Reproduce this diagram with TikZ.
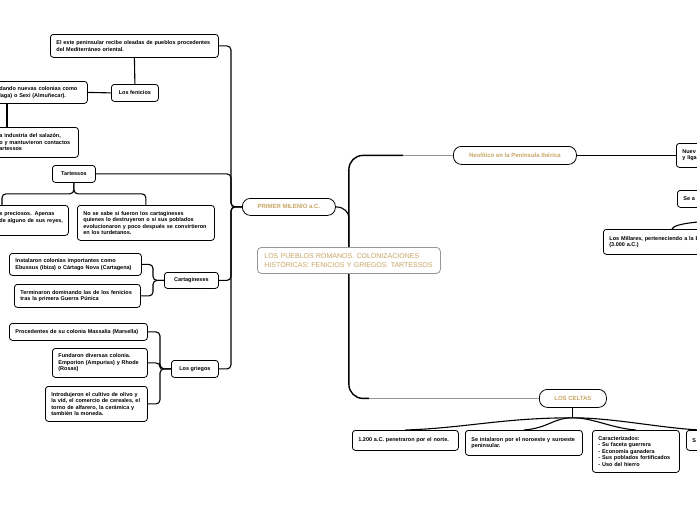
\documentclass[tikz,border=0pt]{standalone}
\usepackage{fontspec}
\setmainfont{Liberation Sans}
\usetikzlibrary{calc,backgrounds}
\definecolor{gold}{RGB}{200,165,100}
\definecolor{rootgray}{RGB}{150,150,150}

\begin{document}
\begin{tikzpicture}[x=1pt, y=-1pt,
  box/.style={draw, line width=0.8pt, rounded corners=3pt, fill=white, anchor=north west,
    align=left, inner xsep=6pt, inner ysep=2pt, font=\fontsize{5.5}{6.5}\selectfont\bfseries},
  tag/.style={box, align=center, inner xsep=2pt},
  pill/.style={draw, line width=0.8pt, rounded corners=8pt, fill=white, anchor=north west,
    align=center, text=gold, inner sep=2pt, font=\fontsize{6}{7}\selectfont\bfseries},
  branch/.style={line width=1.1pt, rounded corners=4pt},
  trunk/.style={line width=1.4pt, rounded corners=14pt},
  twig/.style={line width=0.5pt, draw=rootgray}]
\useasboundingbox (0,0) rectangle (697,520);
\clip (0,0) rectangle (697,520);

% centre
\node[draw=rootgray, line width=0.8pt, rounded corners=4pt, fill=white, anchor=north west,
  align=left, text=gold, text width=169pt, minimum height=26pt, inner xsep=7pt,
  font=\fontsize{7}{8.5}\selectfont] (root) at (257,247)
  {LOS PUEBLOS ROMANOS. COLONIZACIONES\\HISTÓRICAS: FENICIOS Y GRIEGOS. TARTESSOS};

% primer milenio
\node[pill, minimum width=93pt, minimum height=17pt] (milenio) at (242,198) {PRIMER MILENIO a.C.};
\node[box, text width=156pt, minimum height=23pt] (oleadas) at (50,34)
  {El este peninsular recibe oleadas de pueblos procedentes\\del Mediterráneo oriental.};
\node[tag, minimum width=47pt, minimum height=17pt] (fenicios) at (111,84) {Los fenicios};
\node[box, text width=82pt, minimum height=22pt] (colonias) at (-7,81)
  {\mbox{dando nuevas colonias como}\\\mbox{laga) o Sexi (Almuñecar).}};
\node[box, text width=73pt, minimum height=30pt] (salazon) at (-7,127)
  {\mbox{a industria del salazón,}\\\mbox{o y mantuvieron contactos}\\artessos};
\node[tag, minimum width=43pt, minimum height=17pt] (tartessos) at (52,165) {Tartessos};
\node[box, text width=63pt, minimum height=30pt] (preciosos) at (-7,205)
  {\mbox{s preciosos. Apenas}\\\mbox{de alguno de sus reyes,}\\\mbox{}};
\node[box, text width=125pt, minimum height=35pt] (turdetanos) at (77,205)
  {No se sabe si fueron los cartagineses\\quienes lo destruyeron o si sus poblados\\\mbox{evolucionaron y poco después se convirtieron}\\en los turdetanos.};
\node[tag, minimum width=54pt, minimum height=16pt] (cartag) at (164,272) {Cartagineses};
\node[box, text width=120pt, minimum height=22pt] (ebussus) at (9,253)
  {Instalaron colonias importantes como\\\mbox{Ebussus (Ibiza) o Cártago Nova (Cartagena)}};
\node[box, text width=114pt, minimum height=23pt] (punica) at (14,284)
  {\mbox{Terminaron dominando las de los fenicios}\\tras la primera Guerra Púnica};
\node[tag, minimum width=47pt, minimum height=17pt] (griegos) at (171,360) {Los griegos};
\node[box, text width=126pt, minimum height=17pt] (massalia) at (9,323)
  {\mbox{Procedentes de su colonia Massalia (Marsella)}};
\node[box, text width=83pt, minimum height=29pt] (emporion) at (52,348)
  {Fundaron diversas colonia.\\\mbox{Emporion (Ampurias) y Rhode}\\(Rosas)};
\node[box, text width=90pt, minimum height=35pt] (olivo) at (45,386)
  {\mbox{Introdujeron el cultivo de olivo y}\\\mbox{la vid, el comercio de cereales, el}\\\mbox{torno de alfarero, la cerámica y}\\también la moneda.};

% neolitico
\node[pill, minimum width=123pt, minimum height=18pt] (neolitico) at (453,146) {Neolítico en la Península Ibérica};
\node[box, text width=60pt, minimum height=24pt] (nuevas) at (676,143) {Nuev\\y liga};
\node[box, text width=40pt, minimum height=17pt] (sea) at (677,190) {Se a};
\node[box, text width=120pt, minimum height=25pt] (millares) at (603,229)
  {Los Millares, perteneciendo a la E\\(3.000 a.C.)};
\coordinate (offmill) at (720,221);

% celtas
\node[pill, minimum width=67pt, minimum height=18pt] (celtas) at (539,389) {LOS CELTAS};
\node[box, text width=94pt, minimum height=20pt] (norte) at (352,430) {\mbox{1.200 a.C. penetraron por el norte.}};
\node[box, text width=105pt, minimum height=25pt] (noroeste) at (465,430)
  {\mbox{Se intalaron por el noroeste y suroeste}\\peninsular.};
\node[box, text width=75pt, minimum height=42pt] (caract) at (592,430)
  {Caracterizados:\\- Su faceta guerrera\\- Economía ganadera\\\mbox{- Sus poblados fortificados}\\- Uso del hierro};
\node[box, text width=40pt, minimum height=20pt] (celtass) at (686,430) {S};
\coordinate (forkceltas) at ($(celtas.south)+(0,10)$);

\begin{scope}[on background layer]
\draw[branch] (milenio.west) -- ++(-11,0) |- (oleadas.east);
\draw[branch] (milenio.west) -- ++(-11,0) |- (tartessos.east);
\draw[branch] (milenio.west) -- ++(-11,0) |- (cartag.east);
\draw[branch] (milenio.west) -- ++(-11,0) |- (griegos.east);
\draw[branch] (oleadas.south) -- (fenicios.north);
\draw[branch] (fenicios.west) -- (colonias.east);
\draw[branch] ([xshift=14pt]colonias.south west) -- ([xshift=14pt]salazon.north west);
\draw[branch] (tartessos.south) -- ++(0,11) -| ([xshift=9pt]preciosos.north west);
\draw[branch] (tartessos.south) -- ++(0,11) -| (turdetanos.north);
\draw[branch] (cartag.west) -- ++(-11,0) |- (ebussus.east);
\draw[branch] (cartag.west) -- ++(-11,0) |- (punica.east);
\draw[branch] (griegos.west) -- ++(-11,0) |- (massalia.east);
\draw[branch] (griegos.west) -- ++(-11,0) |- (emporion.east);
\draw[branch] (griegos.west) -- ++(-11,0) |- (olivo.east);

\draw[branch] (root.north) -- ++(0,-25) .. controls +(0,-9) and +(9,0) .. (milenio.east);
\draw[trunk] (root.north) |- ([xshift=-50pt]neolitico.west);
\draw[twig] ([xshift=-50pt]neolitico.west) -- (neolitico.west);
\draw[trunk] (root.south) |- ([xshift=-170pt]celtas.west);
\draw[twig] ([xshift=-170pt]celtas.west) -- (celtas.west);

\draw[branch] (neolitico.east) -- (nuevas.west);
\draw[branch] ([xshift=69pt]millares.north west) .. controls +(2,-6) and +(-15,0) .. (offmill);

\draw[branch] (celtas.south) -- (forkceltas);
\draw[branch] (forkceltas) .. controls +(-70,0) and +(60,-2) .. (norte.north);
\draw[branch] (forkceltas) .. controls +(-20,0) and +(25,-2) .. (noroeste.north);
\draw[branch] (forkceltas) .. controls +(20,0) and +(-25,-2) .. (caract.north);
\draw[branch] (forkceltas) .. controls +(40,0) and +(-40,-2) .. ([xshift=14pt]celtass.north west);
\end{scope}
\end{tikzpicture}
\end{document}
